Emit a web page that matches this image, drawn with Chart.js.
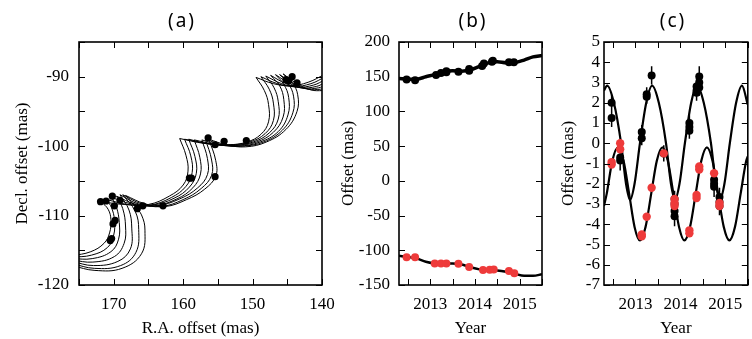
<!DOCTYPE html>
<html>
<head>
<meta charset="utf-8">
<script src="https://cdn.jsdelivr.net/npm/chart.js@4.4.1/dist/chart.umd.min.js"></script>
<style>
html, body { margin: 0; padding: 0; background: #fff; }
#wrap { position: relative; width: 752px; height: 339px; overflow: hidden; }
.panel { position: absolute; top: 0; height: 339px; }
</style>
</head>
<body>
<div id="wrap">
  <div class="panel" style="left:0;width:345px"><canvas id="chartA"></canvas></div>
  <div class="panel" style="left:330px;width:220px"><canvas id="chartB"></canvas></div>
  <div class="panel" style="left:550px;width:202px"><canvas id="chartC"></canvas></div>
</div>
<script>
// ---- panel (a): sky tracks, [R.A., Decl.] pairs, one array per arc between cusps
var tracks = [
  [
    [[176,-115.8],[173.3,-115.2],[171.4,-114.0],[170.6,-112.5],[170.4,-110.6],[170.8,-109.1],[171.8,-108.0]],
    [[171.8,-108.0],[168.5,-108.4],[165.0,-108.4],[162.0,-107.2],[160.0,-105.6],[159.3,-103.6],[159.6,-101.3],[160.5,-98.9]],
    [[160.5,-98.9],[157.0,-99.6],[153.5,-99.8],[150.8,-99.4],[148.8,-98.3],[147.7,-96.5],[147.7,-94.0],[148.3,-92.0],[149.5,-90.1]],
    [[149.5,-90.1],[147.0,-91.0],[144.5,-91.3],[142.0,-90.8],[139.5,-89.6]]
  ],
  [
    [[176,-116.0],[173.2,-115.7],[170.9,-114.6],[170.0,-112.8],[169.9,-110.6],[170.3,-108.9],[171.0,-107.7]],
    [[171.0,-107.7],[168.0,-108.4],[164.8,-108.5],[161.7,-107.4],[159.6,-105.8],[158.7,-103.8],[158.9,-101.4],[159.8,-99.0]],
    [[159.8,-99.0],[156.6,-99.6],[153.2,-99.8],[150.4,-99.4],[148.2,-98.2],[147.0,-96.3],[147.0,-93.8],[147.6,-91.8],[148.8,-90.0]],
    [[148.8,-90.0],[146.4,-91.0],[144.0,-91.4],[141.6,-91.0],[139.5,-90.0]]
  ],
  [
    [[176,-116.2],[173.1,-116.2],[170.4,-115.2],[169.3,-113.4],[169.2,-111.0],[169.6,-108.8],[170.3,-107.4]],
    [[170.3,-107.4],[167.5,-108.3],[164.5,-108.5],[161.3,-107.5],[159.1,-105.9],[158.1,-103.9],[158.3,-101.5],[159.2,-99.0]],
    [[159.2,-99.0],[156.2,-99.7],[152.9,-99.9],[149.9,-99.4],[147.6,-98.1],[146.3,-96.1],[146.3,-93.6],[146.9,-91.6],[148.1,-89.9]],
    [[148.1,-89.9],[145.8,-91.0],[143.5,-91.5],[141.2,-91.2],[139.5,-90.4]]
  ],
  [
    [[176,-116.4],[173.0,-116.7],[169.9,-115.9],[168.5,-114.0],[168.3,-111.5],[168.7,-109.0],[169.6,-107.2]],
    [[169.6,-107.2],[167.0,-108.3],[164.2,-108.6],[160.9,-107.6],[158.6,-106.0],[157.5,-104.0],[157.6,-101.6],[158.4,-99.1]],
    [[158.4,-99.1],[155.5,-99.7],[152.5,-99.9],[149.4,-99.4],[147.0,-98.0],[145.6,-95.8],[145.5,-93.3],[146.1,-91.3],[147.4,-89.8]],
    [[147.4,-89.8],[145.2,-91.0],[143.0,-91.6],[140.8,-91.4],[139.5,-90.8]]
  ],
  [
    [[176,-116.6],[172.9,-117.2],[169.4,-116.6],[167.6,-114.8],[167.4,-111.8],[167.8,-109.2],[169.1,-107.0]],
    [[169.1,-107.0],[166.5,-108.3],[163.8,-108.6],[160.5,-107.6],[157.9,-106.0],[156.5,-104.1],[156.5,-101.8],[157.3,-99.1]],
    [[157.3,-99.1],[154.8,-99.8],[152.0,-100.0],[148.9,-99.4],[146.3,-97.9],[144.9,-95.5],[144.8,-93.0],[145.5,-91.1],[146.7,-89.7]],
    [[146.7,-89.7],[144.6,-91.0],[142.5,-91.7],[140.5,-91.6],[139.5,-91.2]]
  ],
  [
    [[176,-116.9],[172.8,-117.6],[169.0,-117.2],[166.8,-115.3],[166.4,-112.0],[166.9,-109.4],[168.7,-107.0]],
    [[168.7,-107.0],[166.0,-108.3],[163.2,-108.7],[160.0,-107.7],[157.4,-106.1],[155.9,-104.2],[155.9,-102.0],[156.8,-99.0]],
    [[156.8,-99.0],[154.3,-99.8],[151.5,-100.0],[148.4,-99.4],[145.7,-97.7],[144.2,-95.2],[144.1,-92.8],[144.9,-90.9],[146.1,-89.7]],
    [[146.1,-89.7],[144.1,-91.0],[142.0,-91.8],[140.2,-91.8],[139.5,-91.6]]
  ],
  [
    [[176,-117.2],[172.7,-117.9],[168.8,-117.6],[166.0,-115.5],[165.5,-112.1],[166.0,-109.9],[167.0,-108.6],[168.3,-107.1]],
    [[168.3,-107.1],[165.5,-108.3],[162.6,-108.7],[159.5,-107.7],[156.9,-106.2],[155.3,-104.3],[155.3,-102.1],[156.3,-99.0]],
    [[156.3,-99.0],[153.8,-99.8],[151.0,-100.1],[148.0,-99.4],[145.2,-97.6],[143.6,-95.0],[143.5,-92.6],[144.3,-90.8],[145.6,-89.6]],
    [[145.6,-89.6],[143.6,-91.0],[141.6,-91.9],[139.9,-92.0],[139.5,-91.9]]
  ]
]

var raPts  = [171.9, 171.1, 170.2, 169.9, 169.1, 169.8, 170.1, 170.3, 170.5, 166.6, 165.8, 162.9, 159.1, 158.8, 155.4, 156.4, 155.4, 154.1, 150.9, 145.2, 144.3, 143.6, 144.8]
var decPts = [-108.0, -107.9, -107.2, -108.6, -107.8, -110.7, -111.2, -113.3, -113.6, -109.0, -108.6, -108.6, -104.6, -104.6, -104.4, -98.8, -99.8, -99.3, -99.2, -90.4, -90.0, -90.9, -90.6]

// ---- panel (b): offsets vs year
var yearsBlackB = [2012.47, 2012.66, 2013.13, 2013.24, 2013.36, 2013.36, 2013.63, 2013.87, 2013.87, 2014.16, 2014.20, 2014.38, 2014.40, 2014.76, 2014.87]
var blackB      = [146, 145, 152.5, 155.5, 158, 156.5, 157, 158.5, 161, 165.5, 169, 171.5, 173, 171, 171]
var yearsRedB   = [2012.47, 2012.66, 2013.10, 2013.24, 2013.36, 2013.63, 2013.87, 2014.18, 2014.33, 2014.42, 2014.76, 2014.88]
var redB        = [-110, -110, -119, -119, -119, -119.5, -124, -128.5, -128, -127.5, -130, -133]
var lineYearsB  = [2012.3, 2012.5, 2012.7, 2012.9, 2013.1, 2013.3, 2013.5, 2013.7, 2013.9, 2014.1, 2014.3, 2014.5, 2014.7, 2014.9, 2015.1, 2015.3, 2015.5]
var blackLineB  = [147.5, 146.5, 146.5, 150, 153, 157, 158.5, 158, 160, 165, 170, 171.5, 170, 170.5, 174, 178.5, 180.5]
var redLineB    = [-108, -109.5, -112, -116.5, -118.8, -119, -119, -120.5, -124.5, -127.5, -128.5, -129, -131, -134, -136.8, -136.8, -134.5]

// ---- panel (c): parallax offsets vs year
var yearsBlackC = [2012.47, 2012.47, 2012.66, 2012.66, 2013.14, 2013.14, 2013.25, 2013.25, 2013.36, 2013.63, 2013.87, 2013.87, 2013.87, 2013.87, 2014.20, 2014.20, 2014.20, 2014.36, 2014.36, 2014.36, 2014.42, 2014.42, 2014.42, 2014.75, 2014.75, 2014.75, 2014.87, 2014.87, 2014.87]
var blackC      = [2.0, 1.25, -0.7, -0.85, 0.55, 0.25, 2.42, 2.3, 3.35, -0.5, -2.75, -3.0, -3.35, -3.6, 1.0, 0.8, 0.62, 2.8, 2.6, 2.5, 3.3, 3.0, 2.75, -1.8, -2.0, -2.15, -2.65, -2.9, -3.1]
var blackErrC   = [0.4, 0.45, 0.5, 0.5, 0.35, 0.35, 0.35, 0.35, 0.45, 0.4, 0.4, 0.4, 0.5, 0.5, 0.4, 0.4, 0.4, 0.4, 0.4, 0.4, 0.5, 0.4, 0.4, 0.5, 0.5, 0.5, 0.45, 0.45, 0.45]
var yearsRedC   = [2012.47, 2012.47, 2012.66, 2012.66, 2013.14, 2013.14, 2013.25, 2013.36, 2013.63, 2013.87, 2013.87, 2013.87, 2014.20, 2014.20, 2014.36, 2014.36, 2014.42, 2014.42, 2014.75, 2014.87, 2014.87]
var redC        = [-0.93, -1.05, 0.0, -0.3, -4.5, -4.6, -3.63, -2.2, -0.5, -2.75, -2.95, -3.1, -4.3, -4.45, -2.55, -2.7, -1.15, -1.3, -1.48, -2.95, -3.1]
var blackLineYearsC = [2012.3, 2012.37, 2012.52, 2012.68, 2012.79, 2012.88, 2012.98, 2013.10, 2013.24, 2013.37, 2013.52, 2013.68, 2013.79, 2013.88, 2013.98, 2014.10, 2014.24, 2014.37, 2014.52, 2014.68, 2014.79, 2014.88, 2014.98, 2015.10, 2015.24, 2015.37, 2015.5]
var blackLineC      = [2.6, 2.85, 2.0, 0, -2.0, -2.8, -2.0, 0, 2.0, 2.85, 2.0, 0, -2.0, -2.8, -2.0, 0, 2.0, 2.85, 2.0, 0, -2.0, -2.8, -2.0, 0, 2.0, 2.85, 1.9]
var redLineYearsC = [2012.3, 2012.36, 2012.485, 2012.61, 2012.735, 2012.86, 2012.98, 2013.10, 2013.225, 2013.35, 2013.475, 2013.60, 2013.72, 2013.845, 2013.97, 2014.09, 2014.215, 2014.34, 2014.465, 2014.59, 2014.715, 2014.84, 2014.965, 2015.09, 2015.215, 2015.34, 2015.465, 2015.5]
var redLineC      = [-3.1, -2.5, -0.87, -0.2, -0.87, -2.5, -4.13, -4.8, -4.13, -2.5, -0.87, -0.2, -0.87, -2.5, -4.13, -4.8, -4.13, -2.5, -0.87, -0.2, -0.87, -2.5, -4.13, -4.8, -4.13, -2.5, -0.87, -0.65]

var RED = '#ee3a3a'
var serif = { family: 'Liberation Serif', size: 17 }

function xy(xs, ys) {
  return xs.map(function (x, i) { return { x: x, y: ys[i] } })
}

// frame, inward ticks on all four sides, panel letter
var frameTicks = {
  id: 'frameTicks',
  beforeDatasetsDraw: function (chart) {
    // error bars under the points
    var ctx = chart.ctx
    chart.data.datasets.forEach(function (ds) {
      if (!ds.errors) return
      ctx.save()
      ctx.strokeStyle = ds.backgroundColor
      ctx.lineWidth = 1.5
      ctx.beginPath()
      ds.data.forEach(function (p, i) {
        var px = chart.scales.x.getPixelForValue(p.x)
        ctx.moveTo(px, chart.scales.y.getPixelForValue(p.y - ds.errors[i]))
        ctx.lineTo(px, chart.scales.y.getPixelForValue(p.y + ds.errors[i]))
      })
      ctx.stroke()
      ctx.restore()
    })
  },
  afterDatasetsDraw: function (chart, args, opts) {
    var ctx = chart.ctx, a = chart.chartArea, sx = chart.scales.x, sy = chart.scales.y
    var len = 6
    ctx.save()
    ctx.strokeStyle = '#000'
    ctx.lineWidth = 1
    ctx.beginPath()
    sx.ticks.forEach(function (t) {
      var px = Math.round(sx.getPixelForValue(t.value)) + 0.5
      ctx.moveTo(px, a.bottom); ctx.lineTo(px, a.bottom - len)
      ctx.moveTo(px, a.top); ctx.lineTo(px, a.top + len)
    })
    sy.ticks.forEach(function (t) {
      var py = Math.round(sy.getPixelForValue(t.value)) + 0.5
      ctx.moveTo(a.left, py); ctx.lineTo(a.left + len, py)
      ctx.moveTo(a.right, py); ctx.lineTo(a.right - len, py)
    })
    ctx.stroke()
    ctx.lineWidth = 1.6
    ctx.strokeRect(a.left, a.top, a.right - a.left, a.bottom - a.top)
    ctx.fillStyle = '#000'
    ctx.font = '19px "Noto Sans"'
    ctx.letterSpacing = '2px'
    ctx.textAlign = 'center'
    ctx.textBaseline = 'middle'
    ctx.fillText(opts.text, opts.x, opts.y)
    ctx.restore()
  }
}

function makeChart(id, cfg) {
  return new Chart(document.getElementById(id), {
    type: 'scatter',
    data: { datasets: cfg.datasets },
    options: {
      responsive: true,
      maintainAspectRatio: false,
      animation: false,
      layout: { padding: { top: 42, right: cfg.right, left: 0, bottom: 0 } },
      plugins: {
        legend: { display: false },
        tooltip: { enabled: false },
        frameTicks: { text: cfg.letter, x: cfg.letterX, y: 22 }
      },
      scales: {
        x: {
          type: 'linear', min: cfg.xMin, max: cfg.xMax, reverse: !!cfg.xReverse,
          grid: { display: false, drawTicks: false },
          border: { display: false },
          ticks: { stepSize: cfg.xStep, autoSkip: false, includeBounds: false, maxRotation: 0, padding: 9,
                   color: '#000', font: serif, callback: cfg.xLabel },
          title: { display: true, text: cfg.xTitle, color: '#000', font: serif, padding: { top: 0, bottom: 0 } },
          afterFit: function (s) { s.height = 54; s.paddingLeft = 0; s.paddingRight = 0 }
        },
        y: {
          type: 'linear', min: cfg.yMin, max: cfg.yMax,
          grid: { display: false, drawTicks: false },
          border: { display: false },
          ticks: { stepSize: cfg.yStep, autoSkip: false, includeBounds: false, padding: cfg.yPad,
                   color: '#000', font: serif, callback: cfg.yLabel },
          title: { display: true, text: cfg.yTitle, color: '#000', font: serif, padding: { top: cfg.yTitlePad, bottom: 0 } },
          afterFit: function (s) { s.width = cfg.yWidth; s.paddingTop = 0; s.paddingBottom = 0 }
        }
      }
    },
    plugins: [frameTicks]
  })
}

// panel (a)
var dsA = [{
  data: xy(raPts, decPts), backgroundColor: '#000', borderColor: '#000', pointRadius: 3.6, pointBorderWidth: 0
}]
tracks.forEach(function (curve) {
  var pts = []
  curve.forEach(function (arc, k) {
    if (k) pts.push({ x: null, y: null })
    arc.forEach(function (p) { pts.push({ x: p[0], y: p[1] }) })
  })
  dsA.push({ data: pts, showLine: true, spanGaps: false, tension: 0.4, borderColor: '#000', borderWidth: 1, pointRadius: 0 })
})

makeChart('chartA', {
  datasets: dsA, right: 23, letter: '(a)', letterX: 182,
  xMin: 140, xMax: 175, xReverse: true, xStep: 5, xTitle: 'R.A. offset (mas)',
  xLabel: function (v) { return v % 10 === 0 ? String(v) : '' },
  yMin: -120, yMax: -85, yStep: 5, yTitle: 'Decl. offset (mas)', yWidth: 79, yPad: 10, yTitlePad: 12,
  yLabel: function (v) { return v % 10 === 0 ? String(v) : '' }
})

// panel (b)
makeChart('chartB', {
  datasets: [
    { data: xy(yearsRedB, redB), backgroundColor: RED, pointRadius: 4, pointBorderWidth: 0 },
    { data: xy(yearsBlackB, blackB), backgroundColor: '#000', pointRadius: 4, pointBorderWidth: 0 },
    { data: xy(lineYearsB, blackLineB), showLine: true, cubicInterpolationMode: 'monotone', borderColor: '#000', borderWidth: 3.5, pointRadius: 0 },
    { data: xy(lineYearsB, redLineB), showLine: true, cubicInterpolationMode: 'monotone', borderColor: '#000', borderWidth: 2.5, pointRadius: 0 }
  ],
  right: 8, letter: '(b)', letterX: 143,
  xMin: 2012.3, xMax: 2015.5, xStep: 0.5, xTitle: 'Year',
  xLabel: function (v) { return Number.isInteger(v) ? String(v) : '' },
  yMin: -150, yMax: 200, yStep: 50, yTitle: 'Offset (mas)', yWidth: 69, yPad: 9, yTitlePad: 8,
  yLabel: function (v) { return String(v) }
})

// panel (c)
makeChart('chartC', {
  datasets: [
    { data: xy(yearsRedC, redC), backgroundColor: RED, pointRadius: 4.2, pointBorderWidth: 0 },
    { data: xy(yearsBlackC, blackC), errors: blackErrC, backgroundColor: '#000', pointRadius: 4, pointBorderWidth: 0 },
    { data: xy(blackLineYearsC, blackLineC), showLine: true, cubicInterpolationMode: 'monotone', borderColor: '#000', borderWidth: 2.2, pointRadius: 0 },
    { data: xy(redLineYearsC, redLineC), showLine: true, cubicInterpolationMode: 'monotone', borderColor: '#000', borderWidth: 2.2, pointRadius: 0 }
  ],
  right: 3, letter: '(c)', letterX: 123,
  xMin: 2012.3, xMax: 2015.5, xStep: 0.5, xTitle: 'Year',
  xLabel: function (v) { return Number.isInteger(v) ? String(v) : '' },
  yMin: -7, yMax: 5, yStep: 1, yTitle: 'Offset (mas)', yWidth: 54, yPad: 4, yTitlePad: 8,
  yLabel: function (v) { return String(v) }
})
</script>
</body>
</html>
